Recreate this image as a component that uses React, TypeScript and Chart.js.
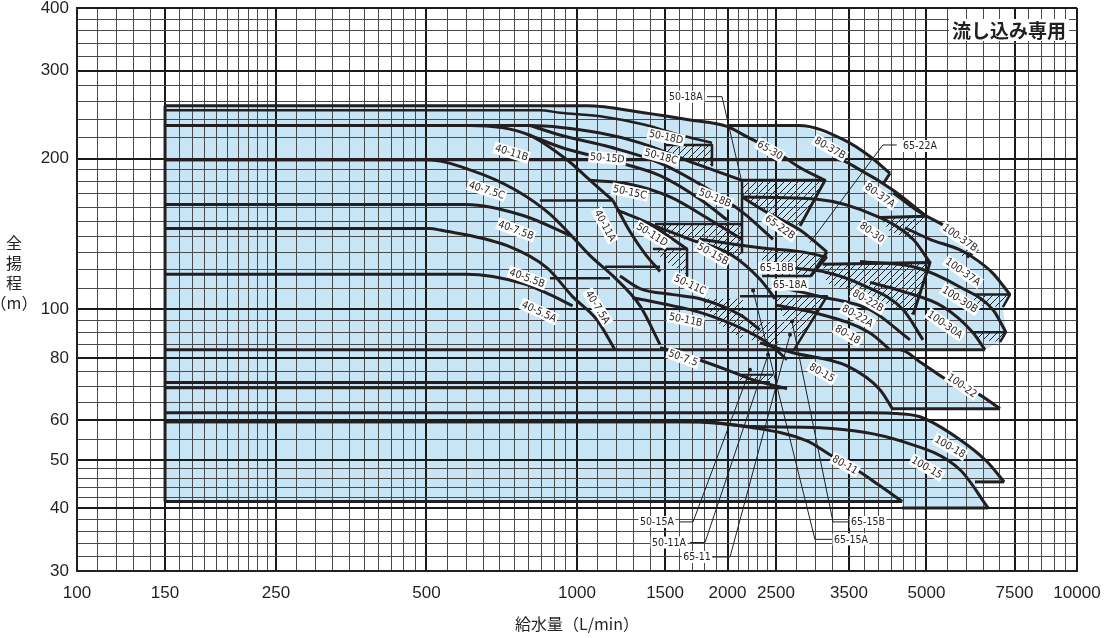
import React, { useEffect, useRef } from 'react';
import { Chart, registerables } from 'chart.js';

Chart.register(...registerables);

const INK = '#231f20';
const BLUE = '#c8e5f6';

// ---------- axis ticks ----------
const xTickLabels = [100, 150, 250, 500, 1000, 1500, 2000, 2500, 3500, 5000, 7500, 10000];
const yTickLabels = [30, 40, 50, 60, 80, 100, 200, 300, 400];
const xGridRanges = [[100, 250, 10], [250, 500, 25], [500, 1000, 50], [1000, 2500, 100], [2500, 5000, 250], [5000, 10000, 500]];
const yGridRanges = [[30, 50, 2], [50, 100, 5], [100, 200, 10], [200, 400, 20]];

// ---------- outer (blue) selection area ----------
const envQ = [150, 150, 1048, 1360, 1683, 1995, 2780, 3420, 3855, 4227, 4110, 4290, 4770, 5490, 6025, 6340, 6025, 6310, 6790, 7345, 7110, 7210, 7015, 6546, 4426, 4853, 5490, 6310, 7015, 4250, 4250, 4853, 5834, 6610, 7150, 6252, 6640, 4470, 4470];
const envH = [41.3, 255, 255, 247, 239, 233, 233, 218, 202, 187, 179, 171, 158, 146, 138, 132, 127, 125.4, 118, 107, 101, 90, 86, 83, 83, 78.5, 72.3, 68, 63.3, 63.3, 62.4, 61, 54.9, 49.6, 45.2, 45.2, 40.1, 40.1, 41.3];

// ---------- pump curves (flow L/min, head m) ----------
const q6530 = [150, 1048, 1360, 1683, 1995, 2190, 2510, 2790, 3130];
const h6530 = [255, 255, 247, 239, 232, 221, 206, 192, 181];
const q5018D = [150, 843, 925, 1112, 1360, 1607, 1862];
const h5018D = [250, 250, 247, 243, 234, 223, 215];
const q5018C = [150, 805, 1112, 1337, 1714, 2138];
const h5018C = [233, 233, 225, 215, 196, 181];
const q5018B = [805, 925, 1164, 1466, 1845, 2148, 2466];
const h5018B = [233, 223, 211, 196, 173, 156, 138];
const q8037B = [1995, 2780, 3420, 3855, 4227];
const h8037B = [233, 233, 218, 202, 187];
const q4011B = [150, 611, 794, 955, 1062, 1180];
const h4011B = [233, 233, 224, 199, 181, 165];
const q4011A = [1180, 1276, 1368, 1466];
const h4011A = [165, 143, 129, 119];
const q4075C = [150, 500, 611, 755, 883, 977];
const h4075C = [199, 199, 190, 173, 155, 140];
const q8037A = [150, 3327, 3681, 4290, 5010];
const h8037A = [199, 199, 190, 173, 153];
const q4075B = [150, 600, 780, 977];
const h4075B = [162, 162, 154, 140];
const q4075A = [977, 1062, 1180, 1337, 1466];
const h4075A = [140, 128, 116.6, 101.6, 85];
const q4055A = [150, 508, 532, 725, 871, 980, 1096, 1191];
const h4055A = [145, 145, 144, 134, 121, 106, 95.3, 83];
const q4055B = [150, 600, 780, 883, 980];
const h4055B = [117.5, 117.5, 112.6, 107, 101.6];
const q10022 = [150, 4426, 4853, 5490, 6310, 7015];
const h10022 = [83, 83, 78.5, 72.3, 68, 63.3];
const q5075 = [1466, 1683, 1995, 2250, 2630];
const h5075 = [83.8, 80.4, 75.7, 72.3, 69.4];
const q10018 = [150, 3855, 4250, 4853, 5834, 6610, 7150];
const h10018 = [62.1, 62.1, 62, 61, 54.9, 49.6, 45.2];
const q8011 = [150, 1629, 2250, 2884, 3206, 3597, 4036, 4470];
const h8011 = [59.6, 59.6, 58, 54.6, 51.2, 48, 44.4, 41.3];
const q10015 = [150, 1762, 2250, 3062, 4487, 5834, 6640];
const h10015 = [59.6, 59.6, 58.3, 58, 54.4, 47.8, 40.1];
const q10037B = [4290, 4770, 5490, 6025, 6340];
const h10037B = [171, 158, 146, 138, 132];
const q10037A = [4529, 5082, 5834, 6310, 6790, 7345];
const h10037A = [145.5, 138, 131.4, 125.4, 118, 107];
const q8030 = [2138, 3020, 3981, 4700, 5082];
const h8030 = [167.7, 166, 153.4, 138, 124];
const q10030B = [3681, 4770, 5834, 6790, 7210];
const h10030B = [124.6, 121.2, 110.8, 99.8, 90];
const q10030A = [3855, 4426, 5395, 6195, 6546];
const h10030A = [113.2, 109, 101.2, 89.8, 83];
const q6522B = [2138, 2399, 2793, 3162];
const h6522B = [167.7, 156.2, 144, 130.2];
const q6518B = [1762, 2345, 2793, 3162];
const h6518B = [138, 132.6, 130.4, 127.2];
const q8022B = [2667, 3162, 3750, 4490, 4920];
const h8022B = [121, 118.5, 111.5, 99.8, 86.9];
const q8022A = [2606, 3062, 3855, 4635];
const h8022A = [110, 106.1, 99.8, 86.9];
const q8018 = [2489, 3005, 3855, 4227];
const h8018 = [102, 98.3, 89.7, 83];
const q8015 = [2323, 2704, 3468, 4036, 4286];
const h8015 = [85.7, 81.9, 77.1, 69.1, 63];
const q5015D = [794, 925, 1150, 1466, 1762, 1995];
const h5015D = [224, 211, 199, 185, 166, 151];
const q5015C = [1062, 1276, 1535, 1845, 2138];
const h5015C = [181, 177.8, 167.7, 151, 138];
const q5015B = [1400, 1683, 2023, 2323, 2489];
const h5015B = [148, 138, 129, 114.8, 105];
const q5011D = [1200, 1400, 1556, 1660];
const h5011D = [158, 148, 138, 132];
const q5011C = [1219, 1337, 1556, 1762, 2118, 2323];
const h5011C = [116.6, 110, 107, 105, 97.5, 91];
const q5011B = [1290, 1556, 1762, 2118, 2432, 2630];
const h5011B = [105.5, 101.6, 98.6, 91.9, 85, 79.3];

// ---------- straight boundary lines ----------
const qL9 = [150, 2432]; const hL9 = [71.4, 71.4];
const qL10 = [150, 2630]; const hL10 = [69.7, 69.7];
const qL13 = [150, 4470]; const hL13 = [41.3, 41.3];
const qEdge = [150, 150]; const hEdge = [41.3, 255];
const qS1 = [1500, 1862, 1862]; const hS1 = [213, 213, 194];
const qS2 = [4227, 4110]; const hS2 = [187, 179];
const qS3 = [1180, 843]; const hS3 = [165, 165];
const qS4 = [5010, 4036]; const hS4 = [153.4, 152.5];
const qS5 = [7015, 4250]; const hS5 = [63.3, 63.3];
const qS6 = [4426, 6546]; const hS6 = [83, 83];
const qS7 = [7150, 6252]; const hS7 = [45.2, 45.2];
const qS8 = [6640, 4470]; const hS8 = [40.1, 40.1];
const qS9 = [6340, 6025]; const hS9 = [132, 127];
const qS10 = [6195, 7345, 7110]; const hS10 = [107, 107, 101];
const qS11 = [3100, 5082, 4700]; const hS11 = [123, 124, 97.5];
const qS12 = [6195, 7210, 7015]; const hS12 = [90, 90, 86];
const qS13 = [2138, 3133, 2793]; const hS13 = [181, 181, 146.8];
const qS14 = [3162, 2937]; const hS14 = [130.2, 116.6];
const qS15 = [3162, 2937, 2345]; const hS15 = [127.2, 116.6, 116.6];
const qS16 = [2118, 3162, 2716]; const hS16 = [106.2, 106.2, 83];
const qS17 = [1432, 2138]; const hS17 = [148, 148];
const qS18 = [2138, 2138]; const hS18 = [181, 130];
const qS19 = [1418, 1660, 1660]; const hS19 = [132, 132, 116.6];
const qS20 = [1138, 1466]; const hS20 = [121.6, 121.6];
const qS21 = [883, 1164]; const hS21 = [115.4, 115.4];
const qS22 = [2118, 2466]; const hS22 = [74, 74];

// ---------- hatched overlap areas ----------
const hat1Q = [1500, 1862, 1862, 1714, 1500]; const hat1H = [213, 213, 194, 196, 206];
const hat2Q = [2138, 3133, 2793, 2399, 2138]; const hat2H = [181, 181, 146.8, 156.2, 167.7];
const hat3Q = [1432, 2138, 2138, 1762, 1432]; const hat3H = [148, 148, 125, 135, 143];
const hat4Q = [1418, 1660, 1660, 1500]; const hat4H = [132, 132, 117.2, 124.8];
const hat5Q = [2345, 3162, 2937, 2345]; const hat5H = [132.6, 127.6, 116.6, 116.6];
const hat6Q = [2489, 3162, 2793, 2606]; const hat6H = [106.2, 106.2, 86.9, 95.3];
const hat7Q = [4036, 5010, 4660, 4227]; const hat7H = [152.5, 153.4, 138, 143];
const hat8Q = [3100, 5082, 4700, 3855, 3162]; const hat8H = [123, 124, 97.5, 106, 112.6];
const hat9Q = [6195, 7345, 7110, 6252]; const hat9H = [107, 107, 101, 102];
const hat10Q = [6195, 7210, 7015, 6397]; const hat10H = [90, 90, 86, 86.9];
const hat11Q = [5834, 6340, 6025, 5834]; const hat11H = [132, 132, 127, 128];
const hat12Q = [2118, 2466, 2466, 2118]; const hat12H = [74, 74, 71.6, 71.6];
const hat13Q = [2218, 2667, 2489, 2218]; const hat13H = [94.4, 94.4, 84, 86.9];
const hat14Q = [1762, 2148, 2148, 1932]; const hat14H = [105, 105, 86.9, 93.2];

// ---------- leader lines ----------
const ld5018AQ = [1820, 1950, 2138]; const ld5018AH = [266, 266, 179];
const ld6522AQ = [4360, 4090, 2924]; const ld6522AH = [213, 213, 136];
const ld5015AQ = [1607, 1706, 2218]; const ld5015AH = [37.6, 37.6, 75.7];
const ld5011AQ = [1683, 1803, 2410]; const ld5011AH = [34.2, 34.2, 81.1];
const ld6511Q = [1862, 2023, 2667]; const ld6511H = [32, 32, 89];
const ld6515BQ = [3516, 3251, 2692]; const ld6515BH = [37.6, 37.6, 94.5];
const ld6515AQ = [3236, 2992, 2250]; const ld6515AH = [34.7, 34.7, 109];

// ---------- model labels ----------
const labelText = ['40-11B', '40-7.5C', '40-7.5B', '40-5.5B', '40-5.5A', '40-11A', '40-7.5A', '50-15D', '50-18D', '50-18C', '50-15C', '50-18B', '50-11D', '50-15B', '50-11C', '50-11B', '50-7.5', '65-30', '80-37B', '65-22B', '65-18B', '65-18A', '80-37A', '80-30', '80-22B', '80-22A', '80-18', '80-15', '100-37B', '100-37A', '100-30B', '100-30A', '100-22', '100-18', '100-15', '80-11', '50-18A', '65-22A', '50-15A', '50-11A', '65-11', '65-15B', '65-15A'];
const labelQ = [740, 660, 755, 795, 840, 1138, 1100, 1150, 1507, 1473, 1276, 1888, 1413, 1870, 1683, 1650, 1630, 2432, 3206, 2547, 2510, 2667, 4036, 3890, 3820, 3640, 3480, 3090, 5834, 5915, 5834, 5445, 5890, 5572, 5010, 3436, 1651, 4853, 1445, 1528, 1738, 3820, 3532];
const labelH = [205.6, 173, 144, 115.5, 99, 147, 101, 200.6, 221, 202, 171.5, 167, 141, 129, 112, 95.3, 80, 208, 210, 146, 121, 112, 169, 142.5, 104, 97, 89, 74.7, 139, 118.8, 104.6, 93.2, 70.4, 53.1, 48.3, 48.9, 266, 212, 37.6, 34.2, 32, 37.6, 34.7];
const labelAngle = [17, 18, 20, 20, 25, 62, 58, 5, 12, 15, 12, 22, 32, 30, 25, 12, 20, 30, 30, 35, 0, 0, 35, 35, 30, 30, 30, 30, 35, 35, 33, 35, 35, 30, 30, 30, 0, 0, 0, 0, 0, 0, 0];

const yTitleChars = ['全', '揚', '程', '（m）'];
const noteText = '流し込み専用';
const xTitle = '給水量（L/min）';

function expand(ranges: number[][]) {
  const out: number[] = [];
  ranges.forEach(([a, b, s]) => {
    for (let v = a; v <= b + 1e-6; v += s) {
      const r = Math.round(v * 1000) / 1000;
      if (!out.includes(r)) out.push(r);
    }
  });
  return out;
}

const toPts = (q: number[], h: number[]) => q.map((x, i) => ({ x, y: h[i] }));

export default function App() {
  const ref = useRef<HTMLCanvasElement>(null);

  useEffect(() => {
    const canvas = ref.current;
    if (!canvas) return;

    // hatch pattern
    const pc = document.createElement('canvas');
    pc.width = 7;
    pc.height = 7;
    const g = pc.getContext('2d')!;
    g.fillStyle = BLUE;
    g.fillRect(0, 0, 7, 7);
    g.strokeStyle = INK;
    g.lineWidth = 1;
    g.beginPath();
    g.moveTo(-1, 8); g.lineTo(8, -1);
    g.moveTo(-1, 1); g.lineTo(1, -1);
    g.moveTo(6, 8); g.lineTo(8, 6);
    g.stroke();
    const hatch = canvas.getContext('2d')!.createPattern(pc, 'repeat');

    const smooth: [number[], number[], number][] = [
      [q6530, h6530, 3], [q5018D, h5018D, 2.5], [q5018C, h5018C, 3], [q5018B, h5018B, 3],
      [q8037B, h8037B, 3], [q4011B, h4011B, 3], [q4011A, h4011A, 3], [q4075C, h4075C, 3],
      [q8037A, h8037A, 3], [q4075B, h4075B, 3], [q4075A, h4075A, 3], [q4055A, h4055A, 3],
      [q4055B, h4055B, 3], [q10022, h10022, 3], [q5075, h5075, 3], [q10018, h10018, 3],
      [q8011, h8011, 3], [q10015, h10015, 3], [q10037B, h10037B, 3], [q10037A, h10037A, 3],
      [q8030, h8030, 3], [q10030B, h10030B, 3], [q10030A, h10030A, 3], [q6522B, h6522B, 3],
      [q6518B, h6518B, 3], [q8022B, h8022B, 3], [q8022A, h8022A, 3], [q8018, h8018, 3],
      [q8015, h8015, 3], [q5015D, h5015D, 3], [q5015C, h5015C, 3], [q5015B, h5015B, 3],
      [q5011D, h5011D, 3], [q5011C, h5011C, 3], [q5011B, h5011B, 3],
    ];
    const straight: [number[], number[], number][] = [
      [qL9, hL9, 3], [qL10, hL10, 3], [qL13, hL13, 3], [qEdge, hEdge, 3],
      [qS1, hS1, 2.5], [qS2, hS2, 3], [qS3, hS3, 2.5], [qS4, hS4, 3], [qS5, hS5, 3],
      [qS6, hS6, 3], [qS7, hS7, 3], [qS8, hS8, 3], [qS9, hS9, 3], [qS10, hS10, 2.5],
      [qS11, hS11, 3], [qS12, hS12, 2.5], [qS13, hS13, 3], [qS14, hS14, 3], [qS15, hS15, 2.5],
      [qS16, hS16, 2.5], [qS17, hS17, 2.5], [qS18, hS18, 2.5], [qS19, hS19, 2.5],
      [qS20, hS20, 2.5], [qS21, hS21, 2.5], [qS22, hS22, 2],
    ];
    const leaders: [number[], number[], boolean][] = [
      [ld5018AQ, ld5018AH, false], [ld6522AQ, ld6522AH, false], [ld5015AQ, ld5015AH, true],
      [ld5011AQ, ld5011AH, true], [ld6511Q, ld6511H, true], [ld6515BQ, ld6515BH, true],
      [ld6515AQ, ld6515AH, true],
    ];
    const hatches: [number[], number[]][] = [
      [hat1Q, hat1H], [hat2Q, hat2H], [hat3Q, hat3H], [hat4Q, hat4H], [hat5Q, hat5H],
      [hat6Q, hat6H], [hat7Q, hat7H], [hat8Q, hat8H], [hat9Q, hat9H], [hat10Q, hat10H],
      [hat11Q, hat11H], [hat12Q, hat12H], [hat13Q, hat13H], [hat14Q, hat14H],
    ];

    const datasets: any[] = [];
    smooth.forEach(([q, h, w]) => datasets.push({
      data: toPts(q, h), borderColor: INK, borderWidth: w, pointRadius: 0,
      fill: false, cubicInterpolationMode: 'monotone',
    }));
    straight.forEach(([q, h, w]) => datasets.push({
      data: toPts(q, h), borderColor: INK, borderWidth: w, pointRadius: 0, fill: false, tension: 0,
    }));
    leaders.forEach(([q, h, dot]) => datasets.push({
      data: toPts(q, h), borderColor: INK, borderWidth: 1, fill: false, tension: 0,
      pointRadius: (c: any) => (dot && c.dataIndex === q.length - 1 ? 2 : 0),
      pointBackgroundColor: INK, pointBorderWidth: 0,
    }));
    hatches.forEach(([q, h]) => datasets.push({
      data: toPts(q, h), borderColor: 'rgba(0,0,0,0)', borderWidth: 0, pointRadius: 0,
      fill: 'shape', backgroundColor: hatch, tension: 0,
    }));
    datasets.push({
      data: toPts(envQ, envH), borderColor: 'rgba(0,0,0,0)', borderWidth: 0, pointRadius: 0,
      fill: 'shape', backgroundColor: BLUE, tension: 0,
    });

    const xGrid = expand(xGridRanges);
    const yGrid = expand(yGridRanges);

    const textPlugin = {
      id: 'pumpText',
      afterDatasetsDraw(chart: any) {
        const { ctx, scales } = chart;
        const xs = scales.x;
        const ys = scales.y;
        ctx.save();
        ctx.font = "10.5px 'DejaVu Sans Condensed', 'DejaVu Sans', sans-serif";
        ctx.textAlign = 'center';
        ctx.textBaseline = 'middle';
        labelText.forEach((t, i) => {
          const px = xs.getPixelForValue(labelQ[i]);
          const py = ys.getPixelForValue(labelH[i]);
          ctx.save();
          ctx.translate(px, py);
          ctx.rotate((labelAngle[i] * Math.PI) / 180);
          const w = ctx.measureText(t).width;
          ctx.fillStyle = '#ffffff';
          ctx.fillRect(-w / 2 - 1.5, -6, w + 3, 12);
          ctx.fillStyle = INK;
          ctx.fillText(t, 0, 0.5);
          ctx.restore();
        });
        ctx.restore();
      },
      afterDraw(chart: any) {
        const { ctx, chartArea } = chart;
        ctx.save();
        // y-axis title (stacked)
        ctx.fillStyle = INK;
        ctx.font = "16px 'Noto Sans CJK JP', sans-serif";
        ctx.textAlign = 'center';
        ctx.textBaseline = 'middle';
        yTitleChars.forEach((c, i) => {
          ctx.fillText(c, 14, 243 + i * 20);
        });
        // note box
        ctx.font = "bold 19px 'Noto Sans CJK JP', sans-serif";
        const w = ctx.measureText(noteText).width;
        const xr = chartArea.right - 11;
        const yc = chartArea.top + 22;
        ctx.fillStyle = '#ffffff';
        ctx.fillRect(xr - w - 3, yc - 11, w + 6, 22);
        ctx.fillStyle = INK;
        ctx.textAlign = 'right';
        ctx.fillText(noteText, xr, yc + 1);
        ctx.restore();
      },
    };

    const chart = new Chart(canvas, {
      type: 'line',
      data: { datasets },
      options: {
        responsive: false,
        animation: false,
        devicePixelRatio: 1,
        events: [],
        layout: { padding: { left: 0, right: 36, top: 8, bottom: 0 } },
        plugins: {
          legend: { display: false },
          tooltip: { enabled: false },
          filler: { drawTime: 'beforeDraw', propagate: false },
        } as any,
        elements: { line: { borderJoinStyle: 'round', capBezierPoints: true } },
        scales: {
          x: {
            type: 'logarithmic',
            min: 100,
            max: 10000,
            afterBuildTicks: (s: any) => {
              s.ticks = xGrid.map((v) => ({ value: v }));
            },
            afterFit: (s: any) => {
              s.height = 67;
              s.paddingLeft = 0;
              s.paddingRight = 0;
            },
            ticks: {
              autoSkip: false,
              maxRotation: 0,
              minRotation: 0,
              padding: 12,
              color: INK,
              font: { family: "'Liberation Sans', Arial, sans-serif", size: 17 },
              callback: (v: any) => (xTickLabels.includes(Number(v)) ? String(v) : ''),
            },
            grid: {
              drawTicks: false,
              color: (c: any) => (c.tick && xTickLabels.includes(c.tick.value) ? '#1a1a1a' : '#4a4a4a'),
              lineWidth: (c: any) => (c.tick && xTickLabels.includes(c.tick.value) ? 2 : 1),
            },
            border: { display: true, color: INK, width: 2 },
            title: {
              display: true,
              text: xTitle,
              color: INK,
              font: { family: "'Noto Sans CJK JP', sans-serif", size: 16 },
              padding: { top: 0, bottom: 4 },
            },
          },
          y: {
            type: 'logarithmic',
            min: 30,
            max: 400,
            afterBuildTicks: (s: any) => {
              s.ticks = yGrid.map((v) => ({ value: v }));
            },
            afterFit: (s: any) => {
              s.width = 77;
              s.paddingTop = 0;
              s.paddingBottom = 0;
            },
            ticks: {
              autoSkip: false,
              padding: 8,
              color: INK,
              font: { family: "'Liberation Sans', Arial, sans-serif", size: 17 },
              callback: (v: any) => (yTickLabels.includes(Number(v)) ? String(v) : ''),
            },
            grid: {
              drawTicks: false,
              color: (c: any) => (c.tick && yTickLabels.includes(c.tick.value) ? '#1a1a1a' : '#4a4a4a'),
              lineWidth: (c: any) => (c.tick && yTickLabels.includes(c.tick.value) ? 2 : 1),
            },
            border: { display: true, color: INK, width: 2 },
          },
        },
      } as any,
      plugins: [textPlugin],
    });

    return () => chart.destroy();
  }, []);

  return (
    <div style={{ position: 'absolute', left: 0, top: 0, width: 1113, height: 638, background: '#fff' }}>
      <canvas ref={ref} width={1113} height={638} style={{ width: 1113, height: 638, display: 'block' }} />
    </div>
  );
}
